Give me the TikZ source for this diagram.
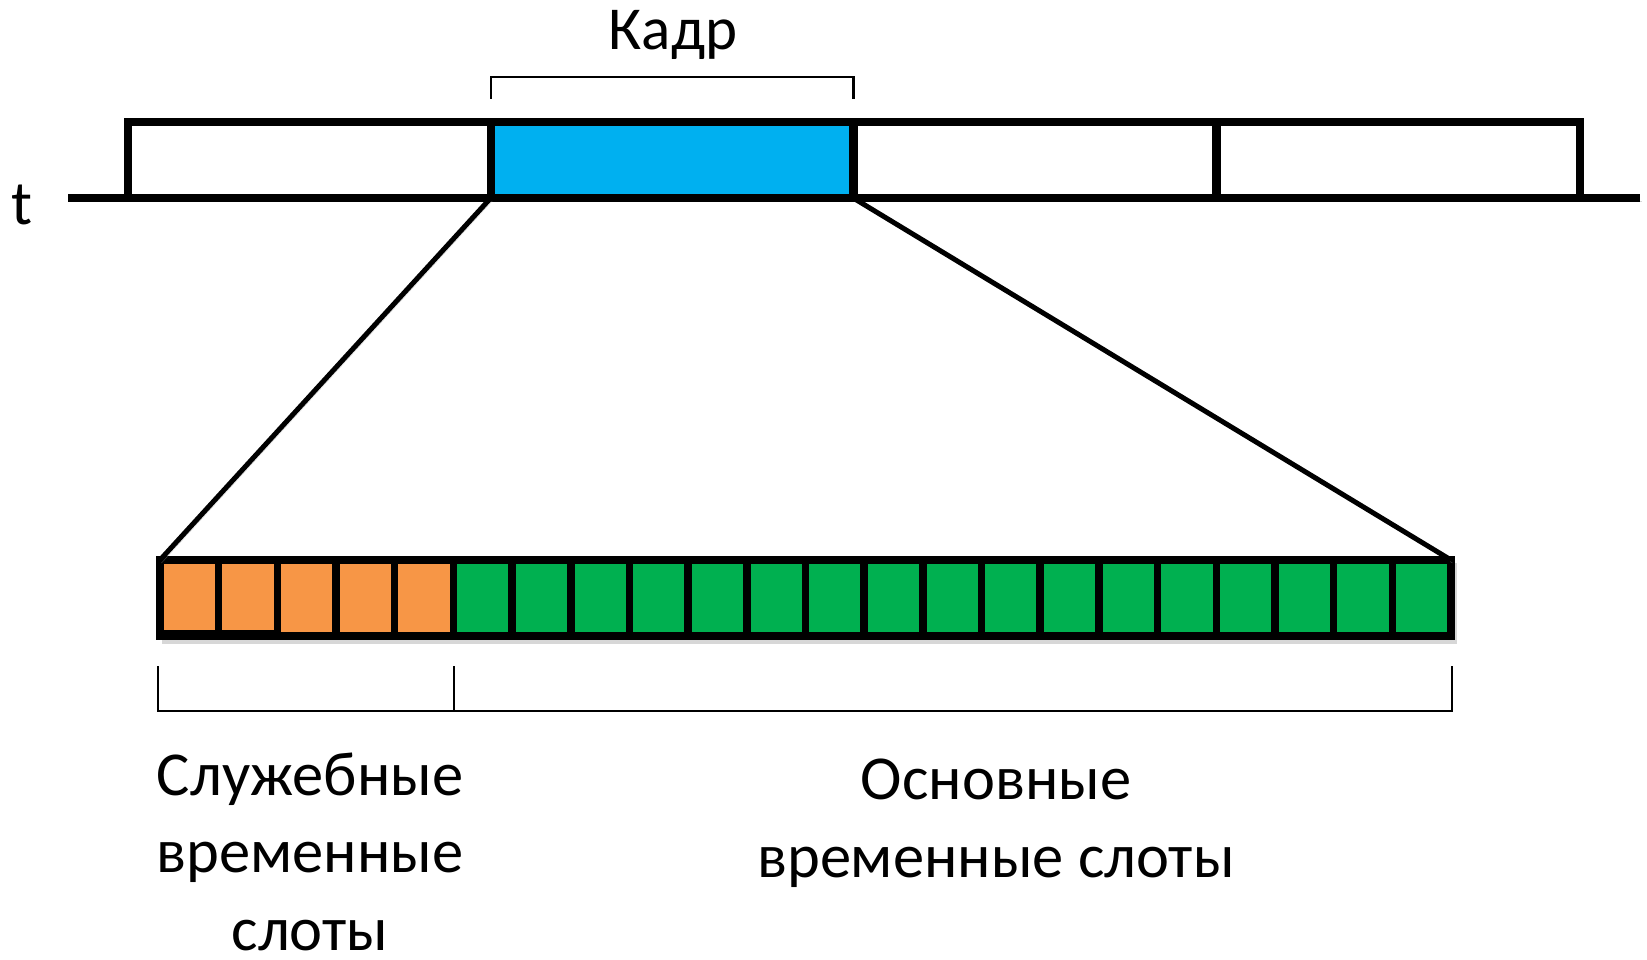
\documentclass[tikz,border=0pt]{standalone}
\usepackage{fontspec}
\setmainfont{Carlito}
\definecolor{frameblue}{HTML}{00B0F0}
\definecolor{svcorange}{HTML}{F79646}
\definecolor{maingreen}{HTML}{00B050}
\begin{document}
\begin{tikzpicture}[x=1pt,y=-1pt,
  soft/.style={preaction={draw=black!35,opacity=0.45,
      transform canvas={shift={(1.5pt,-3pt)}}}},
  framebox/.style={draw,line width=8pt,minimum width=362.5pt,
      minimum height=76pt,inner sep=0pt,outer sep=0pt},
  slotbox/.style={draw,line width=7.5pt,minimum width=58.68pt,
      minimum height=76pt,inner sep=0pt,outer sep=0pt},
  axisline/.style={line width=8pt},
  zoomline/.style={line width=5pt},
  brace/.style={line width=2.4pt},
  label/.style={font=\fontsize{62.5}{77.5}\selectfont,align=center,
      inner sep=0pt,anchor=base}
]
\useasboundingbox (0,0) rectangle (1647,960);

% time axis
\coordinate (axL) at (68,198);
\coordinate (axR) at (1640,198);
\draw[axisline,soft] (axL) -- (axR);
\node[label] (t) at (22,225) {t};

% frames on the time axis
\node[framebox] (f1) at (309.5,160) {};
\node[framebox,fill=frameblue] (frame) at (672,160) {};
\node[framebox] (f3) at (1035,160) {};
\node[framebox] (f4) at (1398.5,160) {};

% frame brace and caption
\draw[brace] (491,99) -- (491,77) -- (853.5,77) -- (853.5,99);
\node[label,font=\fontsize{61}{73}\selectfont] (kadr) at (673,50) {Кадр};

% time slots of one frame
\draw[black!35,opacity=0.45,line width=7.5pt]
  (162,640) -- (1453,640) -- (1453,563);
\foreach \i in {1,...,5}
  \node[slotbox,fill=svcorange] (s\i) at ({160+(\i-0.5)*58.68},598) {};
\foreach \i in {6,...,22}
  \node[slotbox,fill=maingreen] (s\i) at ({160+(\i-0.5)*58.68},598) {};
\draw[line width=7.5pt] ([yshift=2pt]s1.south west) -- ([yshift=2pt]s2.south east);

% zoom from the frame to its slots
\draw[zoomline,soft] (frame.south west) -- (s1.north west);
\draw[zoomline,soft] (frame.south east) -- (s22.north east);

% braces under the slots
\draw[brace] (158,666) -- (158,711) -- (1452,711) -- (1452,666);
\draw[brace] (454,666) -- (454,711);

% captions (anchored at the baseline of the last line)
\node[label,text depth=0pt] (svc) at (310,950) {Служебные\\временные\\слоты};
\node[label] (main) at (996,877) {Основные\\временные слоты};
\end{tikzpicture}
\end{document}
